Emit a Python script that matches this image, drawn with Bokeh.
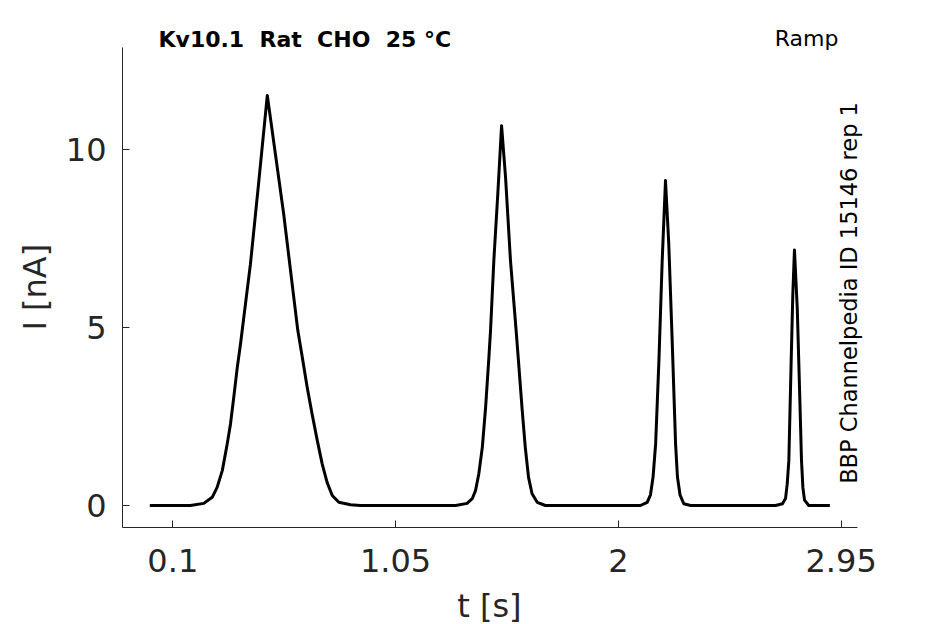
import math
from bokeh.plotting import figure
from bokeh.models import Range1d, FixedTicker, Label
from bokeh.embed import file_html
from bokeh.resources import INLINE

# ---- data ----
t_s = [0.002, 0.175, 0.232, 0.268, 0.289, 0.311, 0.332, 0.346, 0.360, 0.375,
       0.389, 0.431, 0.467, 0.503, 0.573, 0.616, 0.633, 0.652, 0.673,
       0.694, 0.716, 0.737, 0.758, 0.780, 0.808, 0.858, 0.900,
       1.306, 1.355, 1.377, 1.391, 1.405, 1.420, 1.434, 1.448, 1.455, 1.469,
       1.486, 1.502, 1.519, 1.540, 1.564, 1.575, 1.589, 1.603, 1.617, 1.632,
       1.654, 1.689,
       2.094, 2.123, 2.137, 2.148, 2.159, 2.173, 2.187, 2.201, 2.215, 2.230,
       2.244, 2.252, 2.263, 2.279, 2.308,
       2.670, 2.700, 2.713, 2.720, 2.727, 2.737, 2.744, 2.751, 2.763, 2.773,
       2.781, 2.787, 2.794, 2.812, 2.902]
i_nA = [0.0, 0.0, 0.06, 0.23, 0.51, 0.98, 1.73, 2.29, 3.04, 3.88,
        4.55, 6.78, 9.12, 11.52, 8.18, 5.84, 4.92, 4.17, 3.32,
        2.57, 1.83, 1.17, 0.65, 0.28, 0.09, 0.02, 0.0,
        0.0, 0.06, 0.19, 0.42, 0.89, 1.64, 2.76, 4.17, 4.92, 6.88,
        8.76, 10.67, 9.22, 6.88, 4.92, 3.98, 2.76, 1.64, 0.79, 0.33,
        0.09, 0.0,
        0.0, 0.09, 0.30, 0.80, 1.73, 4.07, 6.88, 9.13, 7.35, 4.54,
        1.73, 0.80, 0.30, 0.05, 0.0,
        0.0, 0.05, 0.20, 0.60, 1.26, 4.07, 5.94, 7.18, 5.53, 3.20,
        1.26, 0.50, 0.15, 0.0, 0.0]

x_ticks = [0.1, 1.05, 2.0, 2.95]
x_tick_labels = ["0.1", "1.05", "2", "2.95"]
y_ticks = [0, 5, 10]
y_tick_labels = ["0", "5", "10"]

NB = "\u00a0"
title_text = f"Kv10.1{NB}{NB}Rat{NB}{NB}CHO{NB}{NB}25{NB}°C"
protocol_text = "Ramp"
side_text = "BBP Channelpedia ID 15146 rep 1"
x_label = "t [s]"
y_label = "I [nA]"

FONT = "DejaVu Sans"
AX = "#262626"

# the frame reaches a little beyond the drawn axes so the texts are not clipped
X0, X1 = -0.1145, 3.0582
Y0, Y1 = -0.618, 13.455
X_AXIS_END = 3.018
Y_AXIS_END = 12.87

p = figure(frame_width=744, frame_height=501,
           min_border_left=122, min_border_top=26,
           min_border_right=79, min_border_bottom=97,
           x_range=Range1d(X0, X1), y_range=Range1d(Y0, Y1),
           output_backend="svg", toolbar_location=None)

p.line(t_s, i_nA, line_color="black", line_width=3, line_join="round")

p.grid.visible = False
p.outline_line_color = None
p.background_fill_color = "white"
p.border_fill_color = "white"

for ax, ticks, labels in ((p.xaxis[0], x_ticks, x_tick_labels),
                          (p.yaxis[0], y_ticks, y_tick_labels)):
    ax.ticker = FixedTicker(ticks=ticks)
    ax.major_label_overrides = {tk: lb for tk, lb in zip(ticks, labels)}
    ax.major_tick_in = 7
    ax.major_tick_out = 0
    ax.minor_tick_in = 0
    ax.minor_tick_out = 0
    ax.axis_line_color = AX
    ax.major_tick_line_color = AX
    ax.major_label_text_font = FONT
    ax.major_label_text_font_size = "32px"
    ax.major_label_text_color = AX
    ax.axis_label_text_font = FONT
    ax.axis_label_text_font_size = "32px"
    ax.axis_label_text_font_style = "normal"
    ax.axis_label_text_color = AX

p.xaxis.bounds = (X0, X_AXIS_END)
p.yaxis.bounds = (Y0, Y_AXIS_END)
# trailing no-break spaces re-centre the labels on the drawn axes
p.xaxis.axis_label = x_label + NB
p.yaxis.axis_label = y_label + NB + NB
p.xaxis.major_label_standoff = 21
p.xaxis.axis_label_standoff = 12
p.yaxis.major_label_standoff = 16
p.yaxis.axis_label_standoff = 9

p.add_layout(Label(x=0.039, y=13.085, text=title_text, text_font=FONT,
                   text_font_size="22px", text_font_style="bold",
                   text_color="black", text_align="left",
                   text_baseline="alphabetic"))
p.add_layout(Label(x=2.9385, y=13.115, text=protocol_text, text_font=FONT,
                   text_font_size="22px", text_color="black",
                   text_align="right", text_baseline="alphabetic"))
p.add_layout(Label(x=2.9845, y=5.97, text=side_text, text_font=FONT,
                   text_font_size="22.5px", text_color="black",
                   angle=math.pi / 2, text_align="center",
                   text_baseline="alphabetic"))

open("out.html", "w").write(file_html(p, INLINE))
